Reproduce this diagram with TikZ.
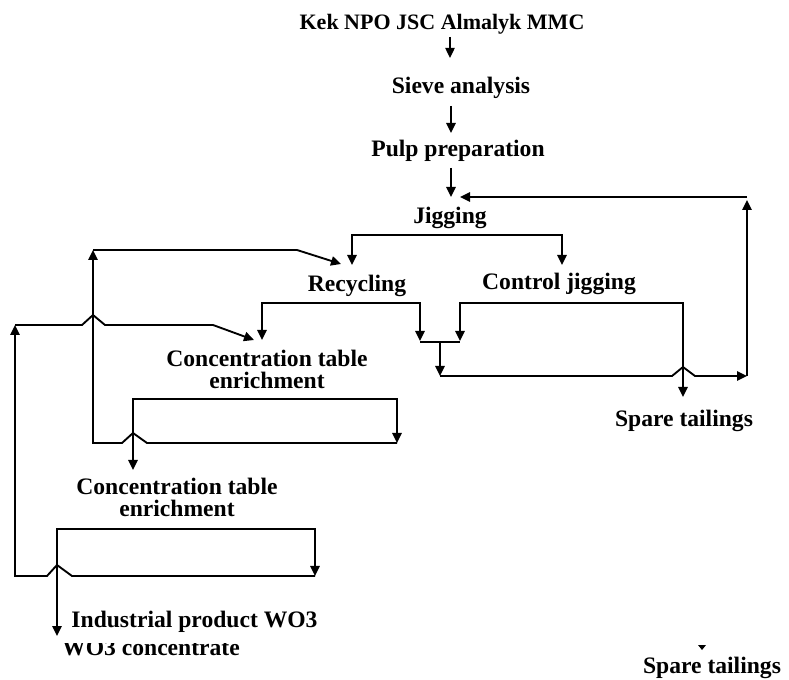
\documentclass[tikz,border=0pt]{standalone}
\usepackage{fontspec}
\setmainfont{Liberation Serif}
\usetikzlibrary{arrows.meta}
\tikzset{
  lbl/.style={font=\fontsize{17.7}{17}\selectfont\bfseries, inner sep=0pt, anchor=base, align=center},
  conn/.style={line width=1.4pt, line join=miter},
  thin conn/.style={line width=1pt},
  arr/.style={-{Triangle[length=7.5pt,width=7pt]}},
}
\begin{document}
\begin{tikzpicture}[x=0.75pt,y=-0.75pt]
\useasboundingbox (0,0) rectangle (789,680);
% labels
\node[lbl, font=\fontsize{16.5}{18}\selectfont\bfseries] (kek) at (442,30) {Kek NPO JSC Almalyk MMC};
\node[lbl] (sieve) at (461,94) {Sieve analysis};
\node[lbl] (pulp) at (458,157) {Pulp preparation};
\node[lbl] (jig) at (450,224) {Jigging};
\node[lbl] (rec) at (357,292) {Recycling};
\node[lbl] (cjig) at (559,290) {Control jigging};
\node[lbl] (spare1) at (684,427) {Spare tailings};
\node[lbl] (conc1) at (267,389) {Concentration table\\enrichment};
\node[lbl] (conc2) at (177,517) {Concentration table\\enrichment};
\node[lbl] (ind) at (194.5,627) {Industrial product WO3};
\begin{scope}
  \clip (40,643) rectangle (270,672);
  \node[lbl] (wo3) at (151,655) {WO3 concentrate};
\end{scope}
\node[lbl] (spare2) at (712,673) {Spare tailings};
\fill (698,645) -- (706,645) -- (702,650) -- cycle;

% coordinates
\coordinate (k1) at (450,37);  \coordinate (k2) at (450,58);
\coordinate (s1) at (451,106); \coordinate (s2) at (451,133);
\coordinate (p1) at (451,168); \coordinate (p2) at (451,197);
\coordinate (fbin) at (460,197);
\coordinate (rtop) at (747,197);
\coordinate (rbot) at (747,376);
\coordinate (jl) at (352,235); \coordinate (jr) at (562,235);
\coordinate (jla) at (352,265); \coordinate (jra) at (562,265);
\coordinate (rl) at (262,303); \coordinate (rr) at (420,303);
\coordinate (rla) at (262,340); \coordinate (rra) at (420,341);
\coordinate (cl) at (460,303); \coordinate (cr) at (683,303);
\coordinate (cla) at (460,341); \coordinate (cra) at (683,397);
\coordinate (ml) at (420,342); \coordinate (mr) at (460,342);
\coordinate (mc) at (440,342); \coordinate (mca) at (440,376);
% conc 1
\coordinate (a1l) at (133,399); \coordinate (a1r) at (397,399);
\coordinate (a1ra) at (397,443); \coordinate (a1la) at (133,470);
\coordinate (b1l) at (93,443);
\coordinate (u1) at (93,250);
\coordinate (u1k) at (297,250); \coordinate (u1e) at (341,264);
% conc 2
\coordinate (a2l) at (57,529); \coordinate (a2r) at (315,529);
\coordinate (a2ra) at (315,576); \coordinate (a2la) at (57,636);
\coordinate (b2l) at (15,576);
\coordinate (u2) at (15,325);
\coordinate (u2k) at (213,325); \coordinate (u2e) at (254,340);

% connectors top chain
\draw[conn, thin conn, arr] (k1) -- (k2);
\draw[conn, arr] (s1) -- (s2);
\draw[conn, arr] (p1) -- (p2);
% jigging split
\draw[conn, arr] (jr) -- (jl) -- (jla);
\draw[conn, arr] (jl) -- (jr) -- (jra);
% recycling split
\draw[conn, arr] (rr) -- (rl) -- (rla);
\draw[conn, arr] (rl) -- (rr) -- (rra);
% control split
\draw[conn, arr] (cr) -- (cl) -- (cla);
\draw[conn, arr] (cl) -- (cr) -- (cra);
% merge
\draw[conn] (ml) -- (mr);
\draw[conn, arr] (mc) -- (mca);
% tailings line with hop, and return to jigging
\draw[conn, arr] (mca) -- (672,376) -- (683,367) -- (695,376) -- (rbot);
\draw[conn, arr] (rbot) -- (747,200);
\draw[conn, arr] (rtop) -- (fbin);
% concentration table 1
\draw[conn, arr] (a1r) -- (a1l) -- (a1la);
\draw[conn, arr] (a1l) -- (a1r) -- (a1ra);
\draw[conn, arr] (a1ra) -- (147,443) -- (133,433) -- (122,443) -- (b1l) -- (u1);
\draw[conn, arr] (u1) -- (u1k) -- (u1e);
% concentration table 2
\draw[conn, arr] (a2r) -- (a2l) -- (a2la);
\draw[conn, arr] (a2l) -- (a2r) -- (a2ra);
\draw[conn, arr] (a2ra) -- (72,576) -- (57,565) -- (47,576) -- (b2l) -- (u2);
\draw[conn, arr] (u2) -- (82,325) -- (93,315) -- (105,325) -- (u2k) -- (u2e);
\end{tikzpicture}
\end{document}
